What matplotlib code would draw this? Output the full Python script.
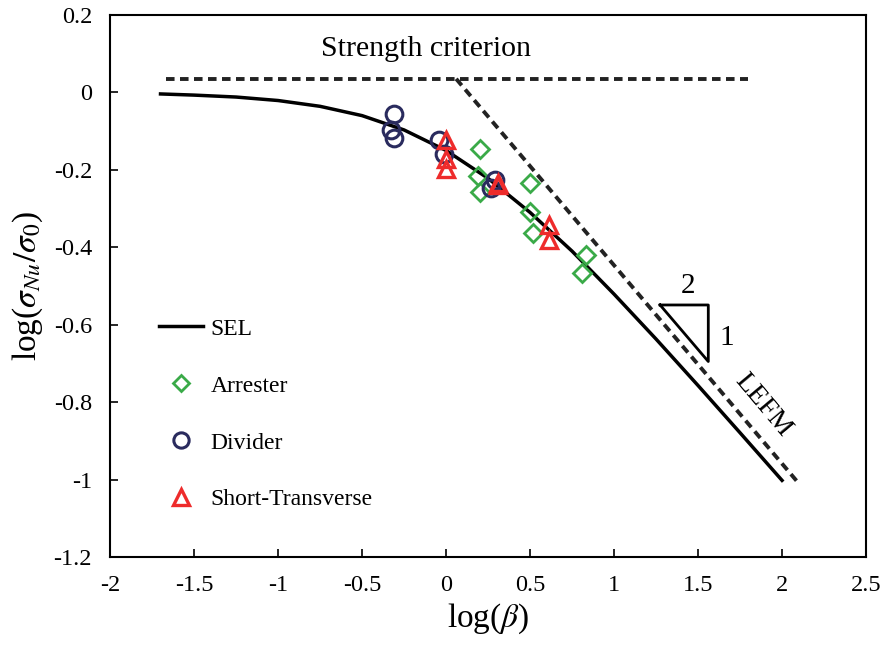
import matplotlib
matplotlib.use("Agg")
import matplotlib.pyplot as plt
from matplotlib.lines import Line2D

plt.rcParams["font.family"] = ["Liberation Serif", "DejaVu Serif"]
plt.rcParams["mathtext.fontset"] = "stix"

# SEL curve
sel_x = [-1.7, -1.5, -1.25, -1.0, -0.75, -0.5, -0.25, 0.0, 0.25, 0.5, 0.75, 1.0, 1.25, 1.5, 1.75, 2.0]
sel_y = [-0.004, -0.007, -0.012, -0.021, -0.036, -0.060, -0.097, -0.150, -0.222, -0.310,
         -0.410, -0.521, -0.637, -0.757, -0.879, -1.002]

# reference lines
strength_x = [-1.67, 1.80]
strength_y = [0.035, 0.035]
lefm_x = [0.06, 2.10]
lefm_y = [0.035, -1.010]

# test data
arrester_x = [0.20, 0.19, 0.20, 0.50, 0.50, 0.52, 0.83, 0.81]
arrester_y = [-0.147, -0.217, -0.257, -0.235, -0.310, -0.364, -0.420, -0.467]
divider_x = [-0.31, -0.33, -0.31, -0.04, -0.01, 0.29, 0.27]
divider_y = [-0.057, -0.098, -0.117, -0.124, -0.160, -0.227, -0.248]
short_x = [0.00, 0.00, 0.00, 0.31, 0.31, 0.61, 0.61]
short_y = [-0.124, -0.171, -0.197, -0.235, -0.240, -0.343, -0.381]

# slope triangle
tri_x = [1.274, 1.561, 1.561, 1.274]
tri_y = [-0.549, -0.549, -0.695, -0.549]

green = "#3aaa48"
navy = "#2a2b5e"
red = "#ee2b2b"

fig = plt.figure(figsize=(8.81, 6.5), dpi=100)
ax = fig.add_axes([0.125, 0.143, 0.858, 0.834])

ax.plot(sel_x, sel_y, color="black", lw=2.5)
ax.plot(strength_x, strength_y, color="#222222", lw=2.8, ls=(0, (2.2, 1.4)))
ax.plot(lefm_x, lefm_y, color="#222222", lw=2.8, ls=(0, (2.2, 1.4)))

ax.plot(arrester_x, arrester_y, ls="none", marker="D", ms=9, mfc="none", mec=green, mew=2.0)
ax.plot(divider_x, divider_y, ls="none", marker="o", ms=12, mfc="none", mec=navy, mew=2.2)
ax.plot(short_x, short_y, ls="none", marker="^", ms=12, mfc="none", mec=red, mew=2.4)

ax.plot(tri_x, tri_y, color="black", lw=2.0)
ax.text(1.44, -0.50, "2", fontsize=21, ha="center", va="center")
ax.text(1.67, -0.635, "1", fontsize=21, ha="center", va="center")
ax.text(1.887, -0.809, "LEFM", fontsize=20, ha="center", va="center", rotation=-50)
ax.text(-0.12, 0.112, "Strength criterion", fontsize=21.5, ha="center", va="center")

handles = [
    Line2D([], [], color="black", lw=2.5),
    Line2D([], [], ls="none", marker="D", ms=8, mfc="none", mec=green, mew=2.0),
    Line2D([], [], ls="none", marker="o", ms=11, mfc="none", mec=navy, mew=2.2),
    Line2D([], [], ls="none", marker="^", ms=11, mfc="none", mec=red, mew=2.4),
]
labels = ["SEL", "Arrester", "Divider", "Short-Transverse"]
ax.legend(handles, labels, loc="upper left", bbox_to_anchor=(0.036, 0.48), frameon=False,
          fontsize=17, labelspacing=1.5, handlelength=1.9, handletextpad=0.3)

ax.set_xlim(-2, 2.5)
ax.set_ylim(-1.2, 0.2)
ax.set_xticks([-2, -1.5, -1, -0.5, 0, 0.5, 1, 1.5, 2, 2.5])
ax.set_xticklabels(["-2", "-1.5", "-1", "-0.5", "0", "0.5", "1", "1.5", "2", "2.5"])
ax.set_yticks([-1.2, -1, -0.8, -0.6, -0.4, -0.2, 0, 0.2])
ax.set_yticklabels(["-1.2", "-1", "-0.8", "-0.6", "-0.4", "-0.2", "0", "0.2"])
ax.tick_params(direction="in", labelsize=17.5, length=6, width=1.2, pad=13)
for s in ax.spines.values():
    s.set_linewidth(1.5)

ax.set_xlabel(r"log($\beta$)", fontsize=24, labelpad=4)
ax.set_ylabel(r"log($\sigma_{Nu}/\sigma_{\mathit{0}}$)", fontsize=24, labelpad=6)

fig.savefig("out.png", dpi=100)
